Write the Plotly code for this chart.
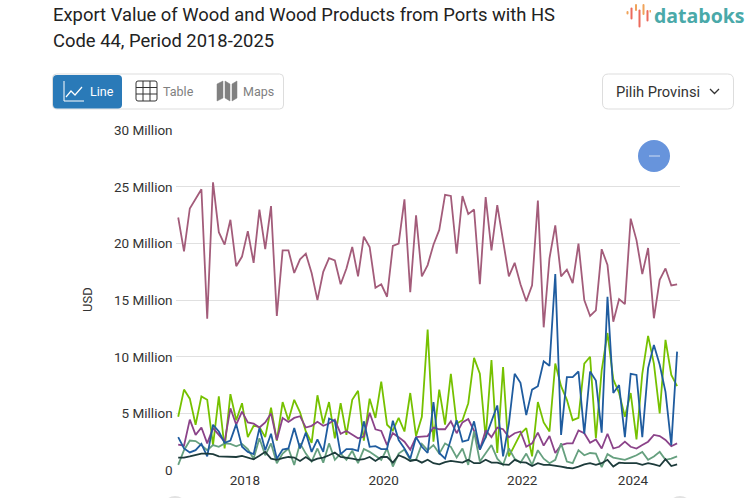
import plotly.graph_objects as go

W, H = 753, 498

tick_pos = [11.5, 35.4, 59.3, 78.4]
tick_years = ["2018", "2020", "2022", "2024"]
y_ticks = [0, 5, 10, 15, 20, 25, 30]
y_labels = ["0", "5 Million", "10 Million", "15 Million", "20 Million", "25 Million", "30 Million"]

# values in million USD
rose = [22.3, 19.3, 23.1, 24.0, 24.8, 13.35, 25.4, 21.0, 19.9, 22.1, 18.0, 18.85, 21.1, 18.3, 23.0, 19.5, 23.3, 13.6,
        19.4, 19.4, 17.4, 18.6, 19.1, 17.4, 15.0, 17.5, 18.7, 18.5, 16.4, 17.8, 19.7, 17.1, 20.6, 19.7, 16.1, 16.4,
        15.3, 19.8, 20.0, 23.9, 15.7, 22.5, 17.1, 18.1, 19.9, 21.2, 24.3, 24.2, 19.1, 24.2, 22.6, 23.0, 16.4, 24.1,
        19.4, 23.4, 20.2, 17.1, 18.3, 16.4, 14.9, 16.3, 23.8, 12.6, 18.7, 21.6, 17.1, 17.7, 16.5, 20.0, 15.0, 13.6,
        14.1, 19.5, 18.1, 13.1, 15.1, 14.65, 22.2, 20.3, 17.3, 19.6, 13.4, 16.8, 17.8, 16.3, 16.4]
lime = [4.7, 7.1, 6.3, 4.0, 6.5, 6.2, 2.2, 6.5, 1.9, 6.7, 4.4, 5.9, 2.9, 3.9, 3.8, 2.9, 5.5, 2.6,
        6.0, 4.4, 6.2, 5.1, 3.4, 2.4, 6.6, 4.1, 6.0, 2.8, 5.9, 3.1, 6.2, 7.0, 2.6, 6.3, 4.6, 7.8,
        4.0, 3.5, 4.6, 3.4, 6.8, 3.0, 4.7, 12.4, 2.5, 7.1, 4.0, 8.5, 4.1, 4.4, 5.9, 9.9, 8.5, 2.8,
        9.7, 1.5, 9.1, 1.2, 2.2, 3.2, 3.7, 1.2, 6.0, 4.2, 3.4, 9.4, 7.4, 6.2, 4.4, 4.6, 9.4, 10.0,
        2.8, 8.8, 12.1, 8.0, 6.8, 4.7, 6.8, 2.7, 8.5, 11.85, 9.4, 5.0, 11.5, 8.4, 7.4]
blue = [2.9, 1.9, 1.55, 1.75, 2.3, 1.2, 4.0, 3.4, 2.4, 2.6, 4.05, 2.05, 1.6, 1.4, 3.7, 1.75, 3.2, 1.0,
        1.8, 1.9, 3.7, 1.9, 3.3, 1.6, 2.7, 1.6, 4.55, 4.3, 1.4, 1.85, 1.85, 1.7, 4.3, 2.05, 2.1, 1.85,
        1.85, 4.35, 2.65, 1.9, 1.0, 2.9, 2.05, 1.5, 6.0, 1.5, 1.0, 2.6, 4.4, 2.5, 2.65, 4.3, 1.8, 2.9,
        4.3, 5.7, 1.2, 4.1, 8.5, 7.7, 4.85, 7.1, 7.4, 9.6, 9.2, 17.3, 3.1, 8.2, 8.2, 8.7, 3.2, 8.7,
        7.9, 3.3, 15.3, 6.8, 7.5, 2.9, 8.5, 8.4, 2.9, 9.0, 11.05, 9.3, 6.9, 2.2, 10.45]
purple = [2.25, 2.15, 4.45, 3.1, 3.75, 2.35, 3.7, 3.1, 2.5, 5.45, 4.0, 5.15, 4.2, 4.1, 3.75, 4.2, 5.0, 2.65,
          4.6, 4.25, 4.6, 4.75, 3.75, 3.9, 4.25, 3.9, 4.1, 4.45, 3.2, 3.45, 3.1, 2.8, 2.95, 5.05, 3.6, 3.45,
          2.2, 3.25, 2.9, 2.5, 1.8, 2.9, 2.95, 3.0, 3.75, 3.6, 3.6, 4.3, 3.25, 4.2, 4.5, 3.45, 1.8, 3.5,
          2.9, 3.75, 3.6, 2.9, 3.25, 3.4, 2.05, 2.35, 3.3, 2.15, 3.0, 1.5, 2.2, 2.35, 2.35, 3.5, 3.25, 2.4,
          2.7, 1.9, 3.2, 1.9, 2.05, 2.5, 2.05, 1.9, 2.2, 2.5, 3.1, 3.0, 2.65, 2.1, 2.35]
sage = [0.45, 1.75, 2.6, 2.55, 2.2, 1.75, 2.2, 2.05, 2.35, 2.3, 2.1, 2.3, 1.85, 1.0, 2.8, 1.3, 2.35, 0.6,
        1.45, 1.9, 0.45, 2.35, 1.45, 0.75, 1.9, 0.65, 2.35, 0.9, 1.45, 0.9, 1.7, 0.6, 1.85, 1.6, 1.25, 0.9,
        1.9, 0.3, 1.45, 1.8, 0.9, 0.9, 2.3, 1.75, 2.2, 1.45, 2.35, 2.05, 1.1, 1.9, 0.45, 3.4, 0.75, 1.45,
        2.2, 1.0, 0.45, 1.9, 1.0, 0.65, 1.45, 0.45, 1.75, 1.0, 0.6, 0.9, 2.35, 0.75, 0.6, 1.75, 1.3, 1.5,
        1.45, 0.25, 1.4, 1.1, 1.0, 0.9, 1.1, 1.3, 1.6, 0.9, 1.2, 1.6, 0.9, 1.0, 1.2]
dark = [1.1, 1.1, 1.2, 1.3, 1.45, 1.45, 1.4, 1.2, 1.2, 1.15, 1.15, 1.25, 1.1, 0.95, 1.25, 1.6, 1.0, 0.9,
        1.05, 1.15, 1.1, 0.8, 1.15, 0.8, 1.0, 1.1, 1.3, 1.55, 1.15, 1.1, 1.0, 0.9, 0.95, 1.15, 0.8, 1.15,
        1.15, 0.65, 1.3, 1.1, 0.8, 0.9, 0.65, 0.9, 0.6, 0.5, 0.7, 0.8, 0.7, 0.65, 0.9, 0.6, 0.6, 0.9,
        0.65, 0.65, 0.5, 0.45, 0.9, 0.7, 0.65, 0.35, 0.6, 0.45, 0.45, 0.4, 0.3, 0.2, 0.15, 0.3, 0.5, 0.6,
        0.45, 0.6, 0.9, 0.3, 0.65, 0.6, 0.6, 0.6, 0.45, 0.6, 0.5, 0.35, 0.95, 0.35, 0.5]

series = [("rose", rose, "#a35c7a"), ("lime", lime, "#76c100"), ("purple", purple, "#8b4389"),
          ("sage", sage, "#66a07f"), ("blue", blue, "#1f5c9f"), ("dark", dark, "#1d3b3b")]


def px(x, y):
    return x / W, 1 - y / H


def box(x0, y0, x1, y1, r=0, fill=None, line=None, lw=1):
    # rounded rectangle in page pixels
    a, b = px(x0, y0)
    c, d = px(x1, y1)
    rx, ry = r / W, r / H
    path = (f"M{a + rx},{b} L{c - rx},{b} Q{c},{b} {c},{b - ry} L{c},{d + ry} Q{c},{d} {c - rx},{d} "
            f"L{a + rx},{d} Q{a},{d} {a},{d + ry} L{a},{b - ry} Q{a},{b} {a + rx},{b} Z")
    return dict(type="path", xref="paper", yref="paper", path=path, fillcolor=fill or "rgba(0,0,0,0)",
                line=dict(color=line or "rgba(0,0,0,0)", width=lw), layer="above")


def poly(points, color, lw=1.2, fill=None):
    path = ""
    for i, (x, y) in enumerate(points):
        a, b = px(x, y)
        path += ("M" if i == 0 else "L") + f"{a},{b} "
    if fill:
        path += "Z"
    return dict(type="path", xref="paper", yref="paper", path=path, fillcolor=fill or "rgba(0,0,0,0)",
                line=dict(color=color, width=lw), layer="above")


def dot(cx, cy, r, color):
    return dict(type="circle", xref="paper", yref="paper", x0=(cx - r) / W, x1=(cx + r) / W,
                y0=1 - (cy + r) / H, y1=1 - (cy - r) / H, fillcolor=color, line=dict(width=0), layer="above")


def label(x, y, text, size=12, color="#333333", anchor="left", font="Roboto", **kw):
    a, b = px(x, y)
    return dict(xref="paper", yref="paper", x=a, y=b, text=text, showarrow=False, xanchor=anchor, yanchor="middle",
                borderpad=0, font=dict(family=font, size=size, color=color), **kw)


fig = go.Figure()
for name, vals, col in series:
    fig.add_trace(go.Scatter(x=list(range(len(vals))), y=vals, mode="lines", name=name,
                             line=dict(color=col, width=1.8), hoverinfo="skip"))

shapes = [
    box(52.5, 74, 283.5, 109, 4, line="#dddddd"),
    box(53, 75, 122, 108.5, 4, fill="#2a7ab8"),
    box(602.5, 74, 733.5, 109, 6, line="#dddddd"),
    # line icon
    poly([(64, 81), (64, 101), (84, 101)], "#ffffff", 1),
    poly([(66, 97), (71, 91), (75, 95), (82, 87)], "#ffffff", 1.2),
    # table icon
    box(136, 81, 157, 101, 2, line="#333333", lw=1),
    poly([(143, 81), (143, 101)], "#333333", 1),
    poly([(150, 81), (150, 101)], "#333333", 1),
    poly([(136, 87.5), (157, 87.5)], "#333333", 1),
    poly([(136, 94), (157, 94)], "#333333", 1),
    # maps icon
    poly([(217, 84), (223, 81), (223, 98), (217, 101)], "#808080", 0.5, "#808080"),
    poly([(225, 81), (230, 84), (230, 101), (225, 98)], "#808080", 0.5, "#808080"),
    poly([(232, 84), (237, 81), (237, 98), (232, 101)], "#808080", 0.5, "#808080"),
    # dropdown chevron
    poly([(710, 89), (714.5, 93.5), (719, 89)], "#333333", 1.3),
    # collapse button
    dot(654, 156, 16, "#6794dc"),
    poly([(649, 156), (660, 156)], "#cfdcf3", 1),
    # slider handles at the page edge
    dot(175, 508, 12, "#e2e2e2"),
    dot(680, 508, 12, "#e2e2e2"),
    # logo bars
    box(626.5, 11, 628.5, 14.5, 1, fill="#f0a35a"),
    box(630.5, 7.5, 632.5, 19.5, 1, fill="#ec6a5c"),
    box(635, 4, 637, 11, 1, fill="#f0a35a"),
    box(638.5, 9.5, 640.5, 27.5, 1, fill="#ec6a5c"),
    box(642.5, 4, 644.5, 15, 1, fill="#f0a35a"),
    box(646.5, 10, 648.5, 21.5, 1, fill="#ec6a5c"),
    box(649.5, 10, 651, 12.5, 0.5, fill="#f0a35a"),
]

annotations = [
    label(52, 14, "Export Value of Wood and Wood Products from Ports with HS", 18.4, "#222222"),
    label(52, 40, "Code 44, Period 2018-2025", 18.4, "#222222"),
    label(89, 91.5, "Line", 12.5, "#ffffff"),
    label(162, 91.5, "Table", 12.5, "#808080"),
    label(242, 91.5, "Maps", 12.5, "#808080"),
    label(615, 91.5, "Pilih Provinsi", 14.7, "#333333"),
    label(653, 15, "<b>databoks</b>", 19.5, "#4aa9a9", font="Open Sans"),
    label(87, 300, "USD", 13, "#333333", anchor="center", textangle=-90),
]

fig.update_layout(
    width=W, height=H, margin=dict(l=0, r=0, t=0, b=0, autoexpand=False), autosize=False,
    paper_bgcolor="white", plot_bgcolor="white", showlegend=False,
    font=dict(family="Roboto", size=12, color="#333333"),
    shapes=shapes, annotations=annotations,
    xaxis=dict(domain=[175.6 / W, 680 / W], range=[-0.45, 86.5], tickmode="array", tickvals=tick_pos,
               ticktext=tick_years, showgrid=False, zeroline=False, showline=False, ticks="",
               automargin=False, tickfont=dict(size=13.5, color="#333333")),
    yaxis=dict(domain=[1 - 470 / H, 1 - 130.3 / H], range=[0, 30], tickmode="array", tickvals=y_ticks,
               ticktext=y_labels, gridcolor="#e0e0e0", gridwidth=1, zeroline=False, showline=False, ticks="",
               automargin=False, ticklabelstandoff=2, tickfont=dict(size=13.5, color="#333333")),
)

fig.write_html("out.html", config={"displayModeBar": False}, post_script="document.body.style.margin='0';")
